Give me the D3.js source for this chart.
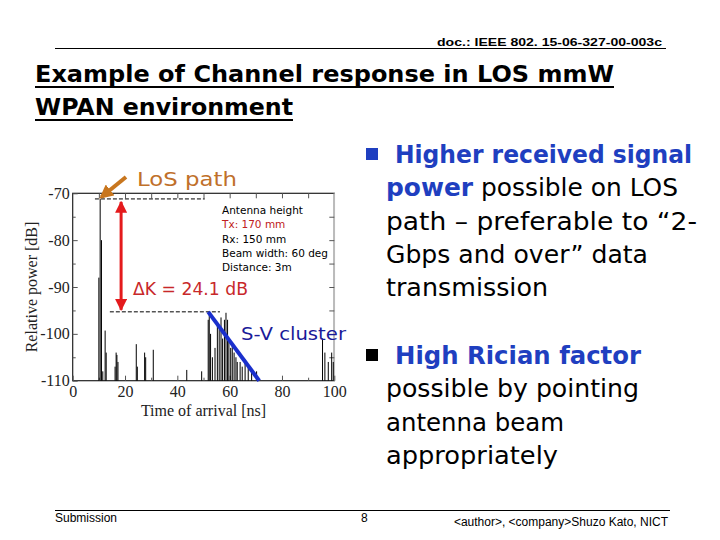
<!DOCTYPE html>
<html><head><meta charset="utf-8">
<script src="https://cdn.jsdelivr.net/npm/d3@7"></script>
<style>body{margin:0;background:#fff}svg{display:block}</style>
</head><body>
<script>
// ---- data ----
const times  = [10.0, 10.5, 11.0, 11.5, 12.4, 12.8, 16.2, 16.6, 16.9, 17.3, 24.3, 24.7, 27.5, 27.9, 30.8, 43.6, 49.3,
                51.8, 52.2, 52.7, 53.4, 54.4, 55.3, 56.0, 56.7, 57.3, 58.0, 58.6, 59.2, 59.7, 60.4, 61.0, 61.7, 62.4, 62.9, 64.0, 64.8, 65.9, 67.1, 68.4, 70.3,
                95.5, 96.4, 97.7, 99.0, 99.6];
const powers = [-88, -71.2, -80, -108, -99.3, -104, -107, -104.0, -104.5, -106, -102.2, -107, -104, -105, -103.4, -107.7, -108,
                -97, -95.3, -100, -105, -103, -97.5, -99, -96.5, -101, -97, -95.5, -97, -101, -103, -102, -104, -105, -106, -106, -107, -105.5, -107, -108, -108,
                -101, -104, -106, -104, -106];
const xTicks = [0, 20, 40, 60, 80, 100];
const yTicks = [-70, -80, -90, -100, -110];
const infoLines = ["Antenna height", "Tx: 170 mm", "Rx: 150 mm", "Beam width: 60 deg", "Distance: 3m"];
const losPeak = -71.2, svPeak = -95.3;
const bullet1 = [["Higher received signal", true], ["power", true, " possible on LOS"], ["path \u2013 preferable to \u201c2-"], ["Gbps and over\u201d data"], ["transmission"]];
const bullet2 = [["High Rician factor", true], ["possible by pointing"], ["antenna beam"], ["appropriately"]];

const W = 720, H = 540;
const svg = d3.select("body").append("svg").attr("width", W).attr("height", H);
const comic = "'Comic Sans MS','DejaVu Sans',sans-serif";

// header
svg.append("text").attr("x", 662).attr("y", 46).attr("text-anchor", "end")
  .attr("font-family", "Liberation Sans, Arial").attr("font-weight", "bold").attr("font-size", 11.5)
  .attr("textLength", 225).attr("lengthAdjust", "spacingAndGlyphs")
  .text("doc.: IEEE 802. 15-06-327-00-003c");
svg.append("line").attr("x1", 55).attr("x2", 666).attr("y1", 48.5).attr("y2", 48.5).attr("stroke", "#000").attr("stroke-width", 1);

// title
svg.append("text").attr("x", 35).attr("y", 82).attr("font-family", comic).attr("font-weight", "bold")
  .attr("font-size", 23).attr("textLength", 579).attr("lengthAdjust", "spacingAndGlyphs")
  .text("Example of Channel response in LOS mmW");
svg.append("line").attr("x1", 35).attr("x2", 614).attr("y1", 87).attr("y2", 87).attr("stroke", "#000").attr("stroke-width", 2);
svg.append("text").attr("x", 35).attr("y", 115).attr("font-family", comic).attr("font-weight", "bold")
  .attr("font-size", 23).attr("textLength", 258).attr("lengthAdjust", "spacingAndGlyphs")
  .text("WPAN environment");
svg.append("line").attr("x1", 35).attr("x2", 293).attr("y1", 120).attr("y2", 120).attr("stroke", "#000").attr("stroke-width", 2);

// chart
const x = d3.scaleLinear().domain([0, 100]).range([72.7, 334.3]);
const y = d3.scaleLinear().domain([-110, -70]).range([380.7, 193.3]);
const g = svg.append("g");

// frame
g.append("rect").attr("x", x(0)).attr("y", y(-70)).attr("width", x(100) - x(0)).attr("height", y(-110) - y(-70))
  .attr("fill", "none").attr("stroke", "#222").attr("stroke-width", 1.2);
g.append("line").attr("x1", x(100)).attr("x2", x(100)).attr("y1", y(-70)).attr("y2", y(-110)).attr("stroke", "#bbb").attr("stroke-width", 1.5);

// axes
const serif = "Liberation Serif, Times New Roman, serif";
const axL = g.append("g").attr("transform", `translate(${x(0)},0)`)
  .call(d3.axisLeft(y).tickValues(yTicks).tickSize(-5).tickPadding(3).tickFormat(d => String(d)));
const axB = g.append("g").attr("transform", `translate(0,${y(-110)})`)
  .call(d3.axisBottom(x).tickValues(xTicks).tickSize(-5).tickPadding(3).tickFormat(d => String(d)));
const axT = g.append("g").attr("transform", `translate(0,${y(-70)})`)
  .call(d3.axisTop(x).tickValues(d3.range(10, 100, 10)).tickSize(-5).tickFormat(""));
const axR = g.append("g").attr("transform", `translate(${x(100)},0)`)
  .call(d3.axisRight(y).tickValues(d3.range(-105, -70, 5)).tickSize(-5).tickFormat(""));
const axBm = g.append("g").attr("transform", `translate(0,${y(-110)})`)
  .call(d3.axisBottom(x).tickValues(d3.range(10, 100, 20)).tickSize(-3).tickFormat(""));
const axLm = g.append("g").attr("transform", `translate(${x(0)},0)`)
  .call(d3.axisLeft(y).tickValues(d3.range(-105, -70, 10)).tickSize(-3).tickFormat(""));
[axL, axB, axT, axR, axBm, axLm].forEach(a => {
  a.select(".domain").remove();
  a.selectAll("line").attr("stroke", "#555");
  a.selectAll("text").attr("font-family", serif).attr("font-size", 16).attr("fill", "#222");
});
axB.selectAll("text").attr("dy", "0.85em");

// axis titles
g.append("text").attr("x", x(50)).attr("y", 416).attr("text-anchor", "middle")
  .attr("font-family", serif).attr("font-size", 16).attr("fill", "#222").text("Time of arrival [ns]");
g.append("text").attr("transform", `translate(37,${y(-90)}) rotate(-90)`).attr("text-anchor", "middle")
  .attr("font-family", serif).attr("font-size", 16).attr("fill", "#222").text("Relative power [dB]");

// impulses
g.append("g").selectAll("line").data(times.map((t, i) => [t, powers[i]])).join("line")
  .attr("x1", d => x(d[0])).attr("x2", d => x(d[0]))
  .attr("y1", y(-110)).attr("y2", d => y(d[1]))
  .attr("stroke", "#000").attr("stroke-width", 1);

// dashed reference lines
g.append("line").attr("x1", x(8.5)).attr("x2", x(50.5)).attr("y1", y(losPeak)).attr("y2", y(losPeak))
  .attr("stroke", "#000").attr("stroke-dasharray", "4,2").attr("stroke-width", 1);
g.append("line").attr("x1", x(14.2)).attr("x2", x(56.3)).attr("y1", y(svPeak)).attr("y2", y(svPeak))
  .attr("stroke", "#000").attr("stroke-dasharray", "4,2").attr("stroke-width", 1);

// defs for arrows
const defs = svg.append("defs");
defs.append("marker").attr("id", "redhead").attr("viewBox", "0 0 10 10").attr("refX", 9).attr("refY", 5)
  .attr("markerWidth", 4).attr("markerHeight", 4).attr("orient", "auto-start-reverse")
  .append("path").attr("d", "M0,0L10,5L0,10z").attr("fill", "#e41a1c");
defs.append("marker").attr("id", "orhead").attr("viewBox", "0 0 10 10").attr("refX", 8).attr("refY", 5)
  .attr("markerWidth", 3.5).attr("markerHeight", 3.5).attr("orient", "auto")
  .append("path").attr("d", "M0,0L10,5L0,10z").attr("fill", "#c8761e");

// red double arrow
g.append("line").attr("x1", x(18.5)).attr("x2", x(18.5)).attr("y1", y(losPeak) + 3).attr("y2", y(svPeak) - 2)
  .attr("stroke", "#e41a1c").attr("stroke-width", 3)
  .attr("marker-start", "url(#redhead)").attr("marker-end", "url(#redhead)");

// orange arrow to LOS peak
g.append("line").attr("x1", 126).attr("x2", x(11)).attr("y1", 177).attr("y2", 197)
  .attr("stroke", "#c8761e").attr("stroke-width", 4).attr("marker-end", "url(#orhead)");
g.append("text").attr("x", 137).attr("y", 186).attr("font-family", comic).attr("font-size", 20)
  .attr("fill", "#c0702a").attr("textLength", 100).attr("lengthAdjust", "spacingAndGlyphs").text("LoS path");

// ΔK label
g.append("text").attr("x", 133).attr("y", 295).attr("font-family", comic).attr("font-size", 17)
  .attr("fill", "#c8282a").attr("textLength", 115).attr("lengthAdjust", "spacingAndGlyphs").text("\u0394K = 24.1 dB");

// info block
g.append("g").selectAll("text").data(infoLines).join("text")
  .attr("x", 222).attr("y", (d, i) => 214 + i * 14.3)
  .attr("font-family", comic).attr("font-size", 10.5)
  .attr("fill", (d, i) => i === 1 ? "#c02020" : "#000")
  .text(d => d);

// S-V cluster line
g.append("line").attr("x1", x(51.8)).attr("x2", x(71.3)).attr("y1", y(svPeak)).attr("y2", y(-110))
  .attr("stroke", "#1a2fcc").attr("stroke-width", 4);
g.append("text").attr("x", 241).attr("y", 340).attr("font-family", comic).attr("font-size", 17)
  .attr("fill", "#1a1a99").attr("textLength", 105).attr("lengthAdjust", "spacingAndGlyphs").text("S-V cluster");

// bullets
function bullets(lines, top, sqColor, widths) {
  svg.append("rect").attr("x", 366).attr("y", top - 15).attr("width", 12).attr("height", 12).attr("fill", sqColor);
  lines.forEach((l, i) => {
    const t = svg.append("text").attr("x", i === 0 ? 395 : 386).attr("y", top + i * 33.3)
      .attr("font-family", comic).attr("font-size", 24);
    if (widths[i]) t.attr("textLength", widths[i]).attr("lengthAdjust", "spacingAndGlyphs");
    t.append("tspan").attr("font-weight", l[1] ? "bold" : "normal").attr("fill", l[1] ? "#1f3fc0" : "#000").text(l[0]);
    if (l[2]) t.append("tspan").attr("fill", "#000").text(l[2]);
  });
}
bullets(bullet1, 163, "#1f3fc0", [297, 292, 311, 262, 162]);
bullets(bullet2, 364, "#000", [246, 253, 178, 172]);

// footer
svg.append("line").attr("x1", 55).attr("x2", 670).attr("y1", 510.5).attr("y2", 510.5).attr("stroke", "#000").attr("stroke-width", 1);
svg.append("text").attr("x", 55).attr("y", 522).attr("font-family", "Liberation Sans, Arial").attr("font-size", 12).text("Submission");
svg.append("text").attr("x", 361).attr("y", 522).attr("font-family", "Liberation Sans, Arial").attr("font-size", 12).text("8");
svg.append("text").attr("x", 668).attr("y", 526).attr("text-anchor", "end").attr("font-family", "Liberation Sans, Arial").attr("font-size", 12)
  .text("<author>, <company>Shuzo Kato, NICT");
</script>
</body></html>
